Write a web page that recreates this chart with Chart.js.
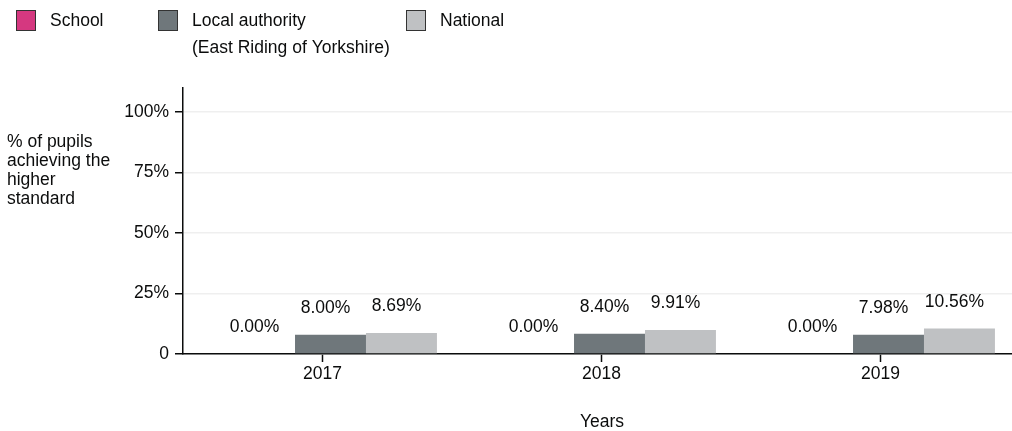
<!DOCTYPE html>
<html>
<head>
<meta charset="utf-8">
<script src="https://cdn.jsdelivr.net/npm/chart.js@4/dist/chart.umd.min.js"></script>
<style>
  html, body { margin: 0; padding: 0; background: #fff; overflow: hidden; }
  canvas { display: block; }
</style>
</head>
<body>
<canvas id="chart" width="1020" height="431"></canvas>
<script>
// chart data
const years = ["2017", "2018", "2019"];
const schoolValues = [0.0, 0.0, 0.0];
const laValues = [8.0, 8.4, 7.98];
const nationalValues = [8.69, 9.91, 10.56];
const yTicks = [0, 25, 50, 75, 100];
const seriesNames = ["School", ["Local authority", "(East Riding of Yorkshire)"], "National"];
const yTitle = ["% of pupils", "achieving the", "higher", "standard"];

const FONT = "Liberation Sans, Arial, sans-serif";
const TEXT = "#0b0c0c";
const BAR_SHIFT = 8; // bar groups sit a little right of the tick in the original

// nudge the bar groups right of the tick marks
const shiftBars = {
  id: "shiftBars",
  beforeDatasetsDraw(chart) {
    chart.ctx.save();
    chart.ctx.translate(BAR_SHIFT, 0);
  },
  afterDatasetsDraw(chart) {
    chart.ctx.restore();
  }
};

// legend, axis titles and value labels drawn by hand
const extras = {
  id: "extras",
  afterDatasetsDraw(chart) {
    const c = chart.ctx;
    c.save();
    c.font = "17.5px " + FONT;
    c.fillStyle = TEXT;

    // value labels
    c.textAlign = "center";
    c.textBaseline = "bottom";
    chart.data.datasets.forEach((ds, i) => {
      chart.getDatasetMeta(i).data.forEach((bar, j) => {
        c.fillText(ds.data[j].toFixed(2) + "%", bar.x + BAR_SHIFT - 5, bar.y - 18);
      });
    });

    // legend
    const boxX = [16, 158, 406];
    c.textAlign = "left";
    c.textBaseline = "middle";
    chart.data.datasets.forEach((ds, i) => {
      c.fillStyle = ds.backgroundColor;
      c.fillRect(boxX[i], 10, 20, 21);
      c.strokeStyle = "#333";
      c.lineWidth = 1;
      c.strokeRect(boxX[i] + 0.5, 10.5, 19, 20);
      c.fillStyle = TEXT;
      const lines = Array.isArray(seriesNames[i]) ? seriesNames[i] : [seriesNames[i]];
      lines.forEach((t, k) => c.fillText(t, boxX[i] + 34, 21 + k * 27));
    });

    // y title
    c.textBaseline = "top";
    yTitle.forEach((t, k) => c.fillText(t, 7, 133 + k * 19));

    // x title
    c.textAlign = "center";
    c.textBaseline = "middle";
    c.fillText("Years", 602, 422);
    c.restore();
  }
};

new Chart(document.getElementById("chart").getContext("2d"), {
  type: "bar",
  data: {
    labels: years,
    datasets: [
      { label: "School", data: schoolValues, backgroundColor: "#d53880" },
      { label: "Local authority (East Riding of Yorkshire)", data: laValues, backgroundColor: "#6f777b" },
      { label: "National", data: nationalValues, backgroundColor: "#bfc1c3" },
    ],
  },
  options: {
    responsive: false,
    animation: false,
    layout: { padding: { top: 88, left: 0, right: 0, bottom: 0 } },
    datasets: { bar: { barPercentage: 1, categoryPercentage: 0.763 } },
    plugins: { legend: { display: false }, tooltip: { enabled: false } },
    scales: {
      x: {
        grid: { drawOnChartArea: false, offset: false, tickLength: 8, tickColor: TEXT, tickWidth: 1.5 },
        border: { color: TEXT, width: 1.5 },
        ticks: { color: TEXT, font: { family: FONT, size: 17.5 }, padding: 2 },
        afterFit(s) { s.height = 77; },
      },
      y: {
        min: 0,
        max: 110,
        afterBuildTicks(s) { s.ticks = yTicks.map(v => ({ value: v })); },
        grid: { color: "#efefef", lineWidth: 1.5, tickLength: 8, tickColor: TEXT, tickWidth: 1.5 },
        border: { color: TEXT, width: 1.5 },
        ticks: {
          color: TEXT,
          font: { family: FONT, size: 17.5 },
          padding: 6,
          callback: v => (v === 0 ? "0" : v + "%"),
        },
        afterFit(s) { s.width = 183; },
      },
    },
  },
  plugins: [shiftBars, extras],
});
</script>
</body>
</html>
